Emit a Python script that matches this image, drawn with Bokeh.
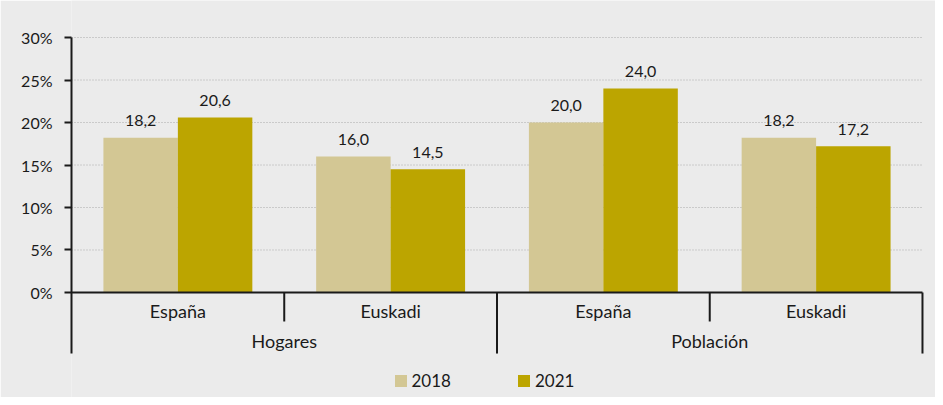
from bokeh.plotting import figure
from bokeh.models import Range1d, FixedTicker, PrintfTickFormatter, Legend, LegendItem
from bokeh.embed import file_html
from bokeh.resources import INLINE
from bokeh.core.properties import value

# ---- data ----
groups = ["Hogares", "Población"]
regions = ["España", "Euskadi", "España", "Euskadi"]
region_group = ["Hogares", "Hogares", "Población", "Población"]
years = ["2018", "2021"]
values_2018 = [18.2, 16.0, 20.0, 18.2]
values_2021 = [20.6, 14.5, 24.0, 17.2]
y_ticks = [0, 5, 10, 15, 20, 25, 30]

# ---- style ----
FONT = "Lato"
BG = "#ebebeb"
C2018 = "#d3c794"
C2021 = "#bca500"
INK = "#1a1a1a"
GRID = "#a8a8a8"

n = len(regions)
centers = [i + 0.5 for i in range(n)]
bw = 0.35
ymax = y_ticks[-1]

p = figure(width=935, height=397, output_backend="svg", toolbar_location=None,
           x_axis_location=None,
           x_range=Range1d(0, n * 1.0153), y_range=Range1d(-12.353, ymax + 4.353),
           min_border_left=71, min_border_right=0, min_border_top=0, min_border_bottom=0)
p.background_fill_color = BG
p.border_fill_color = BG
p.outline_line_color = None
p.grid.visible = False

# y axis
ax = p.yaxis[0]
ax.ticker = FixedTicker(ticks=y_ticks)
ax.formatter = PrintfTickFormatter(format="%d%%")
ax.bounds = (-7.18, ymax)
ax.axis_line_width = 2
ax.axis_line_color = INK
ax.major_tick_line_width = 2
ax.major_tick_line_color = INK
ax.major_tick_out = 7
ax.major_tick_in = 0
ax.minor_tick_line_color = None
ax.major_label_text_font = FONT
ax.major_label_text_font_size = "16px"
ax.major_label_text_color = INK
ax.major_label_standoff = 12

# dotted grid
p.segment(x0=0, x1=n, y0=y_ticks[1:], y1=y_ticks[1:], line_color=GRID,
          line_width=1, line_dash="1 2")

# bars
x18 = [c - bw / 2 for c in centers]
x21 = [c + bw / 2 for c in centers]
r18 = p.vbar(x=x18, top=values_2018, width=bw, fill_color=C2018, line_color=None)
r21 = p.vbar(x=x21, top=values_2021, width=bw, fill_color=C2021, line_color=None)

# value labels
fmt = lambda v: f"{v:.1f}".replace(".", ",")
for xs, vals in ((x18, values_2018), (x21, values_2021)):
    p.text(x=xs, y=vals, text=[fmt(v) for v in vals], text_align="center",
           text_baseline="alphabetic", y_offset=-17, text_font=value(FONT),
           text_font_size="16px", text_color=INK)

# zero line
p.segment(x0=0, x1=n, y0=0, y1=0, line_color=INK, line_width=2)

# separators
sep_x, sep_bottom = [], []
for i in range(1, n + 1):
    boundary = i == n or region_group[i] != region_group[i - 1]
    sep_x.append(i)
    sep_bottom.append(-7.18 if boundary else -3.41)
p.segment(x0=sep_x, x1=sep_x, y0=[0] * len(sep_x), y1=sep_bottom, line_color=INK, line_width=2)

# category labels
p.text(x=centers, y=[0] * n, text=regions, text_align="center", text_baseline="alphabetic",
       y_offset=19, text_font=value(FONT), text_font_size="18px", text_color=INK)
g_centers = []
for g in groups:
    idx = [i for i, rg in enumerate(region_group) if rg == g]
    g_centers.append((idx[0] + idx[-1] + 1) / 2)
p.text(x=g_centers, y=[0] * len(groups), text=groups, text_align="center",
       text_baseline="alphabetic", y_offset=49, text_font=value(FONT),
       text_font_size="18px", text_color=INK)

legend = Legend(items=[LegendItem(label=years[0], renderers=[r18]),
                       LegendItem(label=years[1], renderers=[r21])],
                orientation="horizontal", location=(321.5, 6),
                glyph_width=15, glyph_height=15, label_standoff=4, spacing=65,
                padding=0, margin=0, border_line_color=None, background_fill_alpha=0,
                label_text_font=FONT, label_text_font_size="17px", label_text_color=INK)
p.add_layout(legend)

open("out.html", "w").write(file_html(p, INLINE))
